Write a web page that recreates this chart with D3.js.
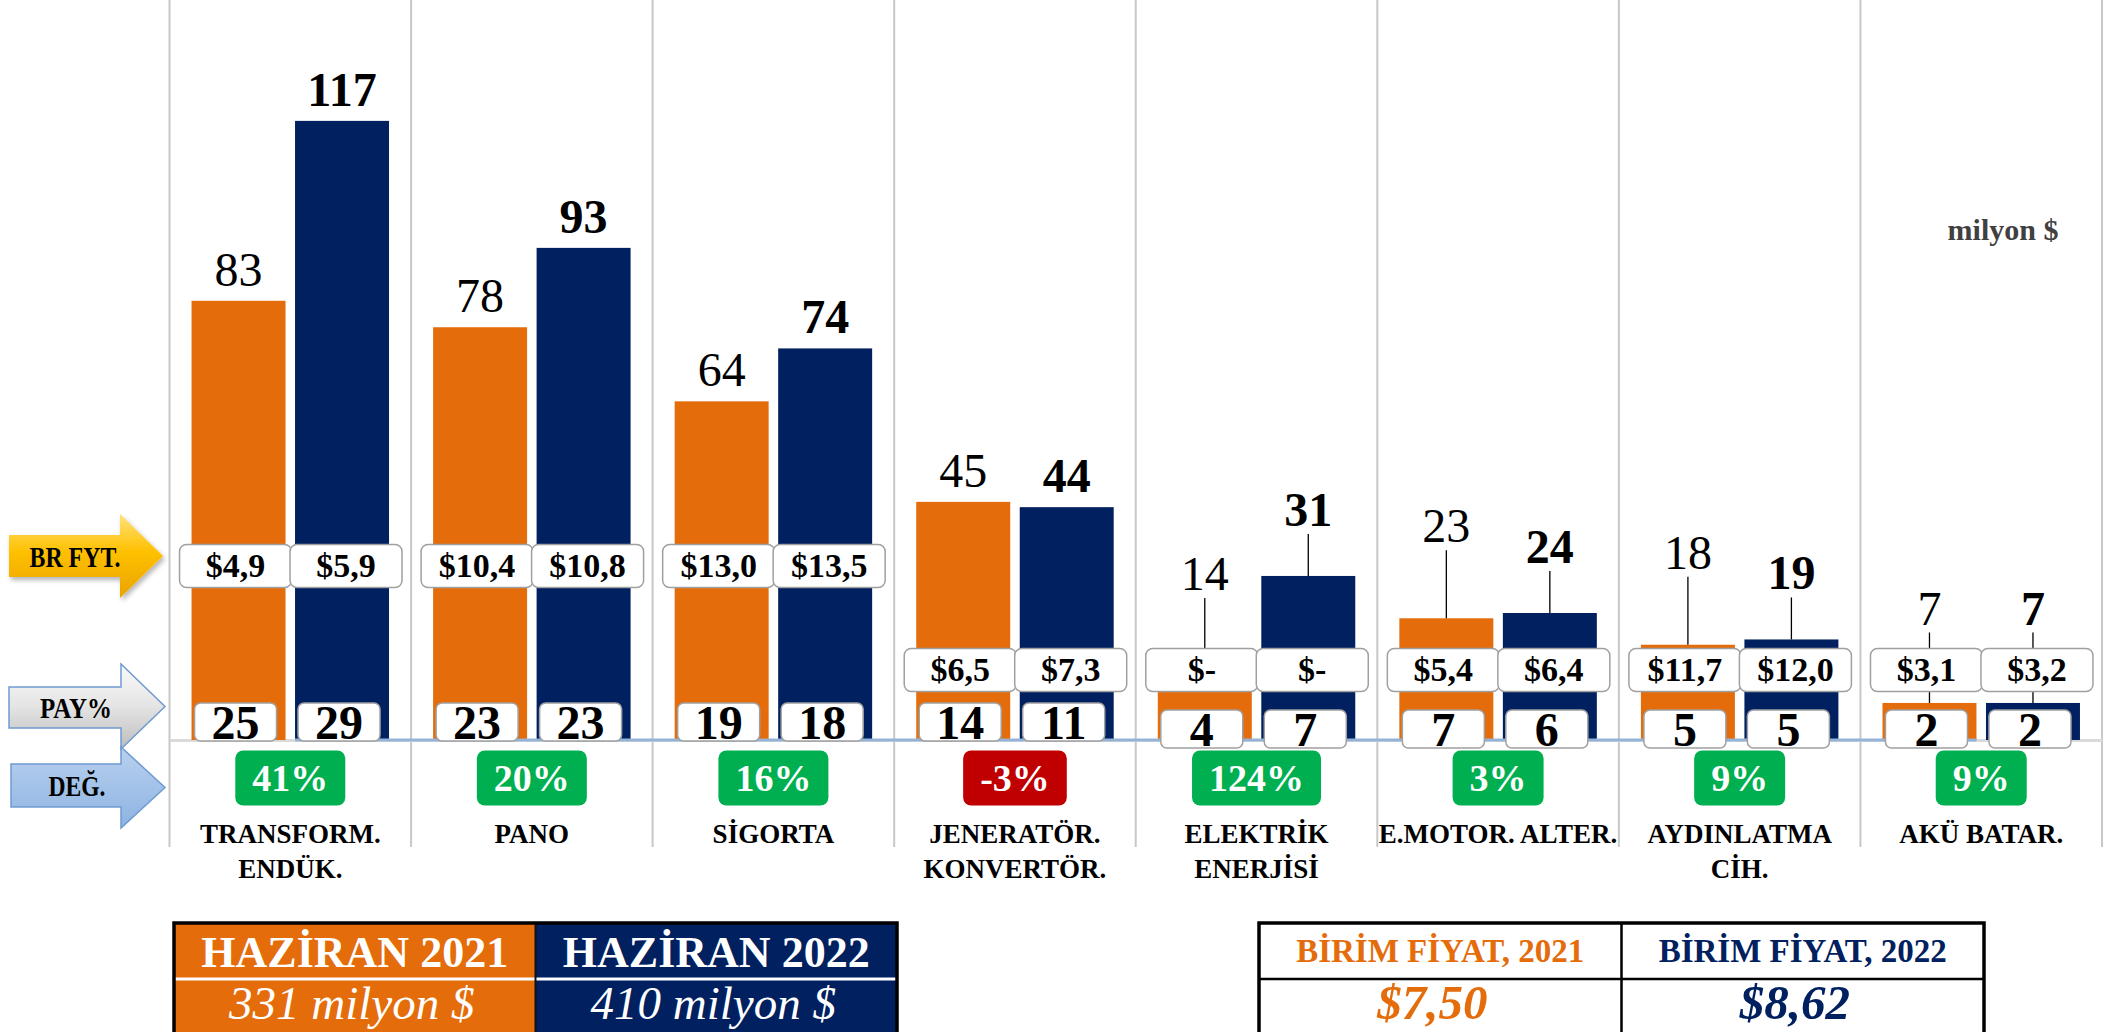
<!DOCTYPE html>
<html>
<head>
<meta charset="utf-8">
<script src="https://cdn.jsdelivr.net/npm/d3@7"></script>
<style>
  html, body { margin: 0; padding: 0; background: #fff; }
  svg { display: block; font-family: "Liberation Serif", "DejaVu Serif", serif; }
</style>
</head>
<body>
<div id="chart"></div>
<script>
// data (milyon $)
var categories = ["TRANSFORM.\nENDÜK.", "PANO", "SİGORTA", "JENERATÖR.\nKONVERTÖR.",
                  "ELEKTRİK\nENERJİSİ", "E.MOTOR. ALTER.", "AYDINLATMA\nCİH.", "AKÜ BATAR."];
var years = ["2021", "2022"];
var values2021 = [83, 78, 64, 45, 14, 23, 18, 7];
var values2022 = [117, 93, 74, 44, 31, 24, 19, 7];
var price2021 = ["$4,9", "$10,4", "$13,0", "$6,5", "$-", "$5,4", "$11,7", "$3,1"];
var price2022 = ["$5,9", "$10,8", "$13,5", "$7,3", "$-", "$6,4", "$12,0", "$3,2"];
var share2021 = [25, 23, 19, 14, 4, 7, 5, 2];
var share2022 = [29, 23, 18, 11, 7, 6, 5, 2];
var change = [41, 20, 16, -3, 124, 3, 9, 9];
var totalHeaders = ["HAZİRAN 2021", "HAZİRAN 2022"];
var totals = ["331 milyon $", "410 milyon $"];
var priceHeaders = ["BİRİM FİYAT, 2021", "BİRİM FİYAT, 2022"];
var avgPrice = ["$7,50", "$8,62"];
var unitLabel = "milyon $";

var W = 2109, H = 1032;
var ORANGE = "#E46C0A", NAVY = "#002060";
var LIFT_BELOW = 35;   // values under this get their label lifted with a leader line

var svg = d3.select("#chart").append("svg")
    .attr("width", W)
    .attr("height", H);

var defs = svg.append("defs");
function vgrad(id, stops) {
  var g = defs.append("linearGradient").attr("id", id)
      .attr("x1", 0).attr("y1", 0).attr("x2", 0).attr("y2", 1);
  stops.forEach(function(s) { g.append("stop").attr("offset", s[0]).attr("stop-color", s[1]); });
}
vgrad("gYellow", [[0, "#FFE27A"], [0.45, "#FFC000"], [1, "#E9A300"]]);
vgrad("gGray", [[0, "#FAFAFA"], [0.5, "#E4E4E4"], [1, "#BDBDBD"]]);
vgrad("gBlue", [[0, "#B9D1EE"], [1, "#8DB3E2"]]);
var sh = defs.append("filter").attr("id", "shadow").attr("x", "-20%").attr("y", "-20%")
    .attr("width", "150%").attr("height", "150%");
sh.append("feDropShadow").attr("dx", 2).attr("dy", 3).attr("stdDeviation", 2.5)
    .attr("flood-color", "#000").attr("flood-opacity", 0.3);

var x0 = d3.scaleBand().domain(d3.range(categories.length)).range([169.5, 2102]);
var x1 = d3.scaleBand().domain(years).range([0, x0.bandwidth()])
    .paddingInner(0.092).paddingOuter(0.213);
var y = d3.scaleLinear().domain([0, 120]).range([740, 105]);
var color = d3.scaleOrdinal().domain(years).range([ORANGE, NAVY]);

var rows = categories.map(function(c, i) {
  return {
    i: i,
    low: Math.min(values2021[i], values2022[i]) < LIFT_BELOW,
    priceY: Math.min(values2021[i], values2022[i]) > 50 ? 566 : 670,
    bars: [
      { i: i, year: "2021", value: values2021[i], price: price2021[i], share: share2021[i] },
      { i: i, year: "2022", value: values2022[i], price: price2022[i], share: share2022[i] }
    ]
  };
});
var bars = [];
rows.forEach(function(r) { r.bars.forEach(function(b) { b.row = r; bars.push(b); }); });

function barX(d) { return x0(d.i) + x1(d.year); }
function barC(d) { return barX(d) + x1.bandwidth() / 2; }

// category separators
var seps = d3.range(categories.length + 1).map(function(i) {
  return i < categories.length ? x0(i) : x0.range()[1];
});
svg.append("g").selectAll("line").data(seps).join("line")
    .attr("x1", function(d) { return d; }).attr("x2", function(d) { return d; })
    .attr("y1", 0).attr("y2", 847)
    .attr("stroke", "#C8C8C8").attr("stroke-width", 2);

// category axis line
var axis = svg.append("g").attr("transform", "translate(0," + y(0) + ")")
    .call(d3.axisBottom(x0).tickSize(0).tickSizeOuter(0).tickFormat(""));
axis.select(".domain").attr("stroke", "#DADADA").attr("stroke-width", 3);

// bars
svg.append("g").selectAll("rect").data(bars).join("rect")
    .attr("x", barX)
    .attr("y", function(d) { return y(d.value); })
    .attr("width", x1.bandwidth())
    .attr("height", function(d) { return y(0) - y(d.value); })
    .attr("fill", function(d) { return color(d.year); });

// blue base line
svg.append("line")
    .attr("x1", x0(0) + x1("2022"))
    .attr("x2", x0(categories.length - 1) + x1("2021") + x1.bandwidth())
    .attr("y1", y(0)).attr("y2", y(0))
    .attr("stroke", "#95B3D7").attr("stroke-width", 3);

// value labels
function labelCenter(d) {
  if (!d.row.low) return y(d.value) - 31;
  var lift = d.year === "2021" ? 92 : 66;
  return Math.min(y(d.value) - lift, d.row.priceY - 21.5 - 40);
}
svg.append("g").selectAll("line").data(bars.filter(function(d) { return d.row.low; })).join("line")
    .attr("x1", barC).attr("x2", barC)
    .attr("y1", function(d) { return labelCenter(d) + 24; })
    .attr("y2", function(d) { return y(d.value); })
    .attr("stroke", "#000").attr("stroke-width", 1.3);

svg.append("g").selectAll("text").data(bars).join("text")
    .attr("x", barC)
    .attr("y", function(d) { return labelCenter(d) + 16; })
    .attr("text-anchor", "middle")
    .attr("font-size", 48)
    .attr("font-weight", function(d) { return d.year === "2022" ? "bold" : "normal"; })
    .attr("fill", "#000")
    .text(function(d) { return d.value; });

// unit price boxes
var pb = svg.append("g").selectAll("g").data(bars).join("g")
    .attr("transform", function(d) {
      var off = d.year === "2021" ? -3 : 4;
      return "translate(" + (barC(d) + off) + "," + d.row.priceY + ")";
    });
pb.append("rect")
    .attr("x", -56).attr("y", -21.5).attr("width", 112).attr("height", 43).attr("rx", 7)
    .attr("fill", "#fff").attr("stroke", "#A0A0A0").attr("stroke-width", 1.5);
pb.append("text")
    .attr("y", 11).attr("text-anchor", "middle")
    .attr("font-size", 34).attr("font-weight", "bold")
    .text(function(d) { return d.price; });

// share (PAY%) boxes
var sb = svg.append("g").selectAll("g").data(bars).join("g")
    .attr("transform", function(d) {
      return "translate(" + (barC(d) - 3) + "," + (d.row.low ? 729 : 722) + ")";
    });
sb.append("rect")
    .attr("x", -41).attr("y", -19).attr("width", 82).attr("height", 38).attr("rx", 6)
    .attr("fill", "#fff").attr("stroke", "#A0A0A0").attr("stroke-width", 1.5);
sb.append("text")
    .attr("y", 17).attr("text-anchor", "middle")
    .attr("font-size", 48).attr("font-weight", "bold")
    .text(function(d) { return d.share; });

// change badges
var bg = svg.append("g").selectAll("g").data(rows).join("g")
    .attr("transform", function(d) { return "translate(" + (x0(d.i) + x0.bandwidth() / 2) + ",778)"; });
var bgText = bg.append("text")
    .attr("y", 13).attr("text-anchor", "middle")
    .attr("font-size", 38).attr("font-weight", "bold").attr("fill", "#fff")
    .text(function(d) { return change[d.i] + "%"; });
bg.insert("rect", "text")
    .each(function(d, k) {
      var w = bgText.nodes()[k].getComputedTextLength() + 34;
      d3.select(this).attr("x", -w / 2).attr("width", w);
    })
    .attr("y", -27.5).attr("height", 55).attr("rx", 8)
    .attr("fill", function(d) { return change[d.i] < 0 ? "#C00000" : "#00B050"; });

// category labels
svg.append("g").selectAll("text").data(rows).join("text")
    .attr("x", function(d) { return x0(d.i) + x0.bandwidth() / 2; })
    .attr("y", 843)
    .attr("text-anchor", "middle")
    .attr("font-size", 27).attr("font-weight", "bold")
    .each(function(d) {
      var t = d3.select(this);
      categories[d.i].split("\n").forEach(function(line, k) {
        t.append("tspan").attr("x", t.attr("x")).attr("dy", k ? 35 : 0).text(line);
      });
    });

// left-hand arrows
var arrows = [
  { label: "BR FYT.", fill: "url(#gYellow)", stroke: "none", x: 9, top: 535, bot: 577, htop: 514, hbot: 598, neck: 120, tip: 163, base: 567, cx: 75, len: 91, shadow: true },
  { label: "PAY%", fill: "url(#gGray)", stroke: "#6F9BD1", x: 9, top: 687, bot: 728, htop: 664, hbot: 749, neck: 121, tip: 165, base: 718, cx: 76, len: 72, shadow: false },
  { label: "DEĞ.", fill: "url(#gBlue)", stroke: "#6F9BD1", x: 11, top: 764, bot: 807, htop: 747, hbot: 828, neck: 121, tip: 165, base: 796, cx: 77, len: 57, shadow: false }
];
var ag = svg.append("g").selectAll("g").data(arrows).join("g");
ag.append("path")
    .attr("d", function(a) {
      return "M" + a.x + "," + a.top + "H" + a.neck + "V" + a.htop +
             "L" + a.tip + "," + (a.htop + a.hbot) / 2 + "L" + a.neck + "," + a.hbot +
             "V" + a.bot + "H" + a.x + "Z";
    })
    .attr("fill", function(a) { return a.fill; })
    .attr("stroke", function(a) { return a.stroke; })
    .attr("stroke-width", 1.5)
    .attr("filter", function(a) { return a.shadow ? "url(#shadow)" : null; });
ag.append("text")
    .attr("x", function(a) { return a.cx; })
    .attr("y", function(a) { return a.base; })
    .attr("text-anchor", "middle")
    .attr("font-size", 29).attr("font-weight", "bold")
    .attr("textLength", function(a) { return a.len; })
    .attr("lengthAdjust", "spacingAndGlyphs")
    .text(function(a) { return a.label; });

// unit label
svg.append("text")
    .attr("x", 2003).attr("y", 240).attr("text-anchor", "middle")
    .attr("font-size", 30).attr("font-weight", "bold").attr("fill", "#404040")
    .text(unitLabel);

// totals table (bottom left)
var tl = svg.append("g");
var tlX = d3.scaleBand().domain(years).range([174, 897]);
tl.selectAll("rect.cell").data(years).join("rect").attr("class", "cell")
    .attr("x", function(d) { return tlX(d); }).attr("y", 923)
    .attr("width", tlX.bandwidth()).attr("height", 120)
    .attr("fill", function(d) { return color(d); });
tl.append("line").attr("x1", 174).attr("x2", 897).attr("y1", 979).attr("y2", 979)
    .attr("stroke", "#fff").attr("stroke-width", 3);
tl.append("line").attr("x1", tlX("2022")).attr("x2", tlX("2022")).attr("y1", 923).attr("y2", 1040)
    .attr("stroke", "#111").attr("stroke-width", 2);
tl.append("rect").attr("x", 174).attr("y", 923).attr("width", 723).attr("height", 130)
    .attr("fill", "none").attr("stroke", "#000").attr("stroke-width", 3.5);
tl.selectAll("text.h").data(years).join("text").attr("class", "h")
    .attr("x", function(d) { return tlX(d) + tlX.bandwidth() / 2; }).attr("y", 967)
    .attr("text-anchor", "middle").attr("font-size", 44).attr("font-weight", "bold").attr("fill", "#fff")
    .text(function(d, k) { return totalHeaders[k]; });
tl.selectAll("text.v").data(years).join("text").attr("class", "v")
    .attr("x", function(d) { return tlX(d) + tlX.bandwidth() / 2 - 3; }).attr("y", 1019)
    .attr("text-anchor", "middle").attr("font-size", 47).attr("font-style", "italic").attr("fill", "#fff")
    .text(function(d, k) { return totals[k]; });

// unit price table (bottom right)
var tr = svg.append("g");
var trX = d3.scaleBand().domain(years).range([1259, 1984]);
tr.append("rect").attr("x", 1259).attr("y", 923).attr("width", 725).attr("height", 130)
    .attr("fill", "#fff").attr("stroke", "#000").attr("stroke-width", 3.5);
tr.append("line").attr("x1", trX("2022")).attr("x2", trX("2022")).attr("y1", 923).attr("y2", 1040)
    .attr("stroke", "#000").attr("stroke-width", 2.5);
tr.append("line").attr("x1", 1259).attr("x2", 1984).attr("y1", 979).attr("y2", 979)
    .attr("stroke", "#000").attr("stroke-width", 2.5);
tr.selectAll("text.h").data(years).join("text").attr("class", "h")
    .attr("x", function(d) { return trX(d) + trX.bandwidth() / 2; }).attr("y", 962)
    .attr("text-anchor", "middle").attr("font-size", 33).attr("font-weight", "bold")
    .attr("fill", function(d) { return color(d); })
    .text(function(d, k) { return priceHeaders[k]; });
tr.selectAll("text.v").data(years).join("text").attr("class", "v")
    .attr("x", function(d) { return trX(d) + trX.bandwidth() / 2 - 8; }).attr("y", 1019)
    .attr("text-anchor", "middle").attr("font-size", 49).attr("font-weight", "bold").attr("font-style", "italic")
    .attr("fill", function(d) { return color(d); })
    .text(function(d, k) { return avgPrice[k]; });
</script>
</body>
</html>
